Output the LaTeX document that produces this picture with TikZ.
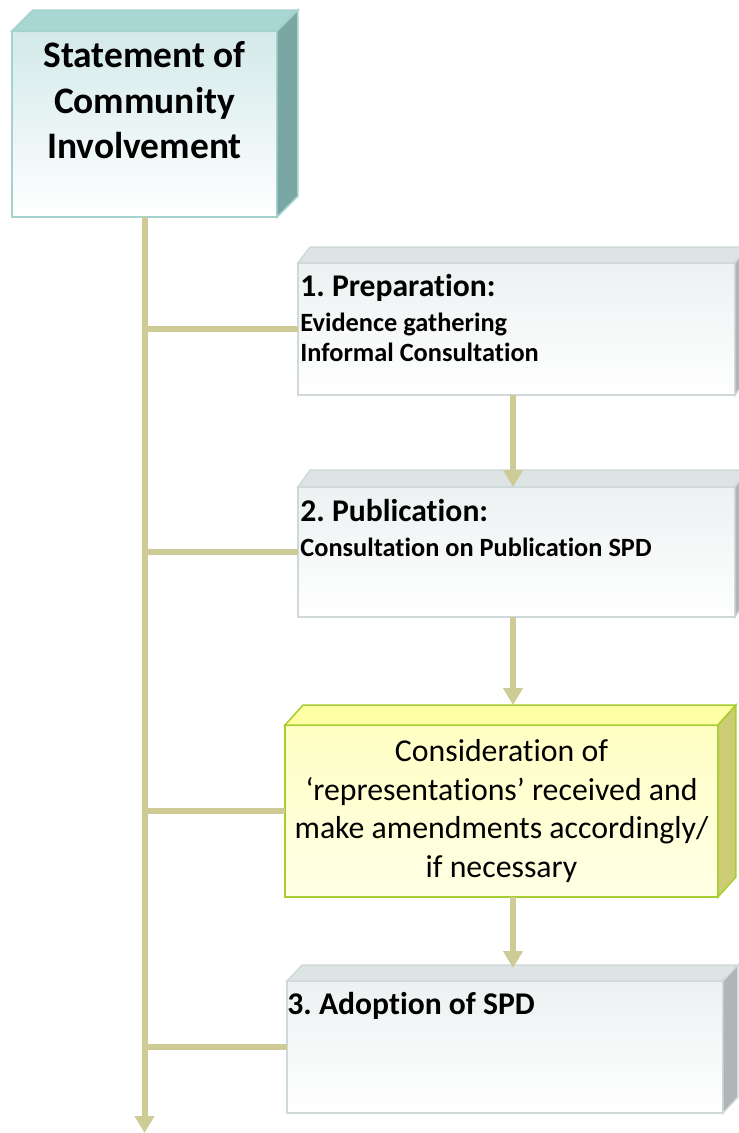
\documentclass[tikz,border=0pt]{standalone}
\usepackage{fontspec}
\setmainfont{Carlito}[Ligatures={NoCommon}, RawFeature={-clig}]
\usetikzlibrary{positioning, arrows.meta, calc}
\frenchspacing

\definecolor{khaki}{HTML}{CFCB97}
\definecolor{scifront}{HTML}{D3E9E9}
\definecolor{scitopface}{HTML}{A9D5D3}
\definecolor{sciside}{HTML}{7AA6A3}
\definecolor{sciline}{HTML}{A4D2CE}
\definecolor{greyfront}{HTML}{EDF1F2}
\definecolor{greytopface}{HTML}{DCE4E4}
\definecolor{greyside}{HTML}{AEB6B6}
\definecolor{greyline}{HTML}{CFD9DA}
\definecolor{yelfront}{HTML}{FFFFC4}
\definecolor{yelbottom}{HTML}{FFFFE6}
\definecolor{yeltopface}{HTML}{FFFFA3}
\definecolor{yelside}{HTML}{CCCC74}
\definecolor{yelline}{HTML}{A6CE2E}

% top and side face of a block: node, dx, dy, top colour, side colour, line colour
\newcommand{\boxdepth}[6]{%
  \filldraw[fill=#4, draw=#6, line width=0.03cm] (#1.north west) -- ++(#2,#3) -- ($(#1.north east)+(#2,#3)$) -- (#1.north east) -- cycle;
  \filldraw[fill=#5, draw=#6, line width=0.03cm] (#1.north east) -- ++(#2,#3) -- ($(#1.south east)+(#2,#3)$) -- (#1.south east) -- cycle;
}
\newcommand{\headline}[1]{{\fontsize{18}{22}\selectfont #1}}

\begin{document}
\begin{tikzpicture}[x=0.02cm, y=-0.02cm,
  face/.style={draw, rectangle, line width=0.03cm, outer sep=0pt, inner sep=0pt},
  greyface/.style={face, draw=greyline, top color=greyfront, bottom color=white, minimum height=2.64cm},
  conn/.style={line width=0.12cm, draw=khaki},
  arrow/.style={conn, -{Triangle[width=0.38cm, length=0.34cm]}},
  lbl/.style={inner sep=0pt, align=left, font=\bfseries\fontsize{15}{17}\selectfont}
]
  \useasboundingbox (0,0) rectangle (738,1133);

  \node[face, draw=sciline, top color=scifront, bottom color=white, minimum width=5.3cm, minimum height=3.72cm] (sci) at (144.5,124) {};
  \node[lbl, align=center, font=\bfseries\fontsize{21.3}{26}\selectfont, below=0.2cm of sci.north] (sciLbl) {Statement of\\Community\\Involvement};

  \node[greyface, minimum width=8.74cm] (prep) at (516.5,329) {};
  \node[lbl, below right=0.22cm and 0.04cm of prep.north west] (prepLbl)
    {\headline{1. Preparation:}\\[3pt] Evidence gathering\\ Informal Consultation};

  \node[greyface, minimum width=8.74cm, minimum height=2.6cm] (pub) at (516.5,552) {};
  \node[lbl, below right=0.24cm and 0.04cm of pub.north west] (pubLbl)
    {\headline{2. Publication:}\\[3pt] Consultation on Publication SPD};

  \node[face, draw=yelline, top color=yelfront, bottom color=yelbottom, minimum width=8.66cm, minimum height=3.44cm,
        align=center, font=\fontsize{18.1}{22}\selectfont] (cons) at (501.5,811)
    {Consideration of\\‘representations’ received and\\make amendments accordingly/\\if necessary};

  \node[greyface, minimum width=8.72cm] (adopt) at (505,1047) {};
  \node[lbl, below right=0.22cm and 0cm of adopt.north west] (adoptLbl)
    {\headline{3. Adoption of SPD}};

  \boxdepth{sci}{21}{-21}{scitopface}{sciside}{sciline}
  \boxdepth{prep}{12}{-16}{greytopface}{greyside}{greyline}
  \boxdepth{pub}{12}{-17}{greytopface}{greyside}{greyline}
  \boxdepth{cons}{18}{-20}{yeltopface}{yelside}{yelline}
  \boxdepth{adopt}{15}{-16}{greytopface}{greyside}{greyline}

  % connectors
  \coordinate (spine) at (513,0);
  \coordinate (trunkend) at (144.5,1133);
  \draw[arrow] (sci.south) -- (trunkend);
  \foreach \b in {prep,pub,cons,adopt}
    \draw[conn] (sci.south |- \b.west) -- (\b.west);
  \draw[arrow] (prep.south -| spine) -- (pub.north -| spine);
  \draw[arrow] (pub.south -| spine) -- ($(cons.north -| spine)+(0,-20)$);
  \draw[arrow] (cons.south -| spine) -- ($(adopt.north -| spine)+(0,-13)$);
\end{tikzpicture}
\end{document}
